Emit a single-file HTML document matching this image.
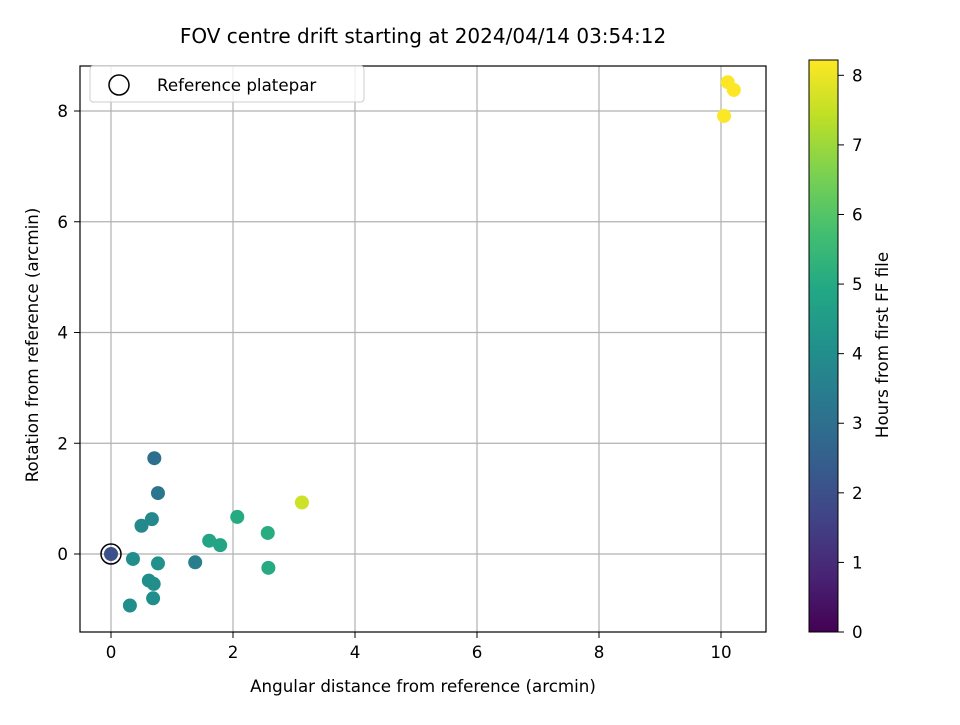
<!DOCTYPE html>
<html><head><meta charset="utf-8"><style>
body{margin:0;background:#fff}
svg text{font-family:"DejaVu Sans","Liberation Sans",sans-serif;fill:#000}
</style></head><body>
<svg id="chart" width="960" height="720" xmlns="http://www.w3.org/2000/svg">
<defs><linearGradient id="vir" x1="0" y1="1" x2="0" y2="0">
<stop offset="0" stop-color="#440154"/><stop offset="0.1" stop-color="#482475"/><stop offset="0.2" stop-color="#414487"/><stop offset="0.3" stop-color="#355f8d"/><stop offset="0.4" stop-color="#2a788e"/><stop offset="0.5" stop-color="#21918c"/><stop offset="0.6" stop-color="#22a884"/><stop offset="0.7" stop-color="#44bf70"/><stop offset="0.8" stop-color="#7ad151"/><stop offset="0.9" stop-color="#bddf26"/><stop offset="1" stop-color="#fde725"/>
</linearGradient></defs>
<text x="423" y="43" font-size="20" text-anchor="middle">FOV centre drift starting at 2024/04/14 03:54:12</text>
<g id="grid"></g><g id="pts"></g><g id="axes"></g>
<text x="423" y="692" font-size="16.7" text-anchor="middle">Angular distance from reference (arcmin)</text>
<text transform="translate(38,345) rotate(-90)" font-size="16.7" text-anchor="middle">Rotation from reference (arcmin)</text>
<g>
<rect x="90" y="66" width="274" height="36" rx="3" fill="#fff" fill-opacity="0.8" stroke="#ccc"/>
<circle cx="119" cy="85" r="10" fill="none" stroke="#000" stroke-width="1.5"/>
<text x="157" y="91" font-size="16.7">Reference platepar</text>
</g>
<rect x="809" y="60" width="29" height="572" fill="url(#vir)" stroke="#000" stroke-width="1"/>
<g id="cbticks"></g>
<text transform="translate(888,345) rotate(-90)" font-size="16.7" text-anchor="middle">Hours from first FF file</text>
</svg>
<script>
const xs=[0.71,0.77,0.67,0.50,2.07,2.57,3.13,1.61,1.79,0.36,0.77,1.38,0.62,0.70,0.69,0.31,2.58,10.11,10.21,10.05,0];
const ys=[1.73,1.10,0.63,0.51,0.67,0.38,0.93,0.24,0.16,-0.09,-0.17,-0.15,-0.48,-0.54,-0.80,-0.93,-0.25,8.52,8.38,7.91,0];
const hours=[3.0,3.2,3.8,3.8,5.0,5.1,7.6,4.8,4.8,4.0,4.1,3.5,4.0,4.0,4.0,4.0,5.0,8.2,8.2,8.2,2.0];
const xTicks=[0,2,4,6,8,10];
const yTicks=[0,2,4,6,8];
const cTicks=[0,1,2,3,4,5,6,7,8];
const L=80,R=766,T=66,B=632,cMax=8.22;
const X=v=>111+v*61, Y=v=>554-v*55.375, C=v=>632-v*(572/cMax);
const stops=["#440154","#482475","#414487","#355f8d","#2a788e","#21918c","#22a884","#44bf70","#7ad151","#bddf26","#fde725"];
function vir(h){let t=Math.max(0,Math.min(1,h/cMax))*10,i=Math.min(9,Math.floor(t)),f=t-i;
const a=stops[i],b=stops[i+1];let o='#';for(let k=1;k<7;k+=2){const c=Math.round(parseInt(a.substr(k,2),16)*(1-f)+parseInt(b.substr(k,2),16)*f);o+=c.toString(16).padStart(2,'0');}return o;}
const NS="http://www.w3.org/2000/svg";
function mk(tag,attrs,parent,txt){const e=document.createElementNS(NS,tag);for(const k in attrs)e.setAttribute(k,attrs[k]);if(txt!==undefined)e.textContent=txt;document.getElementById(parent).appendChild(e);return e;}
xTicks.forEach(v=>{let e=mk('line',{x1:X(v),x2:X(v),y1:T,y2:B,stroke:'#b0b0b0','stroke-width':1.2},'grid');


mk('line',{x1:X(v),x2:X(v),y1:B,y2:B+6,stroke:'#000'},'axes');
let t=mk('text',{x:X(v),y:B+26,'font-size':16.7,'text-anchor':'middle'},'axes',v);

});
yTicks.forEach(v=>{let e=mk('line',{x1:L,x2:R,y1:Y(v),y2:Y(v),stroke:'#b0b0b0','stroke-width':1.2},'grid');


mk('line',{x1:L-6,x2:L,y1:Y(v),y2:Y(v),stroke:'#000'},'axes');
let t=mk('text',{x:L-12,y:Y(v)+6,'font-size':16.7,'text-anchor':'end'},'axes',v);

});
xs.forEach((v,i)=>{let c=mk('circle',{cx:X(v),cy:Y(ys[i]),r:7,fill:vir(hours[i])},'pts');

});
let ref=mk('circle',{cx:X(0),cy:Y(0),r:10,fill:'none',stroke:'#000','stroke-width':1.5},'pts');


let fr=mk('rect',{x:L,y:T,width:R-L,height:B-T,fill:'none',stroke:'#000','stroke-width':1.2},'axes');


cTicks.forEach(v=>{mk('line',{x1:838,x2:844,y1:C(v),y2:C(v),stroke:'#000'},'cbticks');
let t=mk('text',{x:852,y:C(v)+6,'font-size':16.7},'cbticks',v);

});
</script>
</body></html>
